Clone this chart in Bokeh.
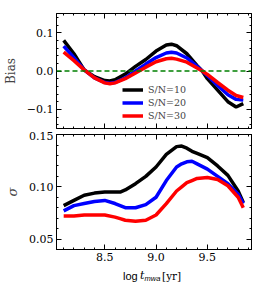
from bokeh.plotting import figure
from bokeh.layouts import column
from bokeh.models import (LinearAxis, Range1d, Span, Legend, LegendItem,
                          SingleIntervalTicker, CustomJSTickFormatter)
from bokeh.core.properties import value
from bokeh.embed import file_html
from bokeh.resources import INLINE

# ---------------- data ----------------
x_bias = [8.10, 8.20, 8.30, 8.40, 8.50, 8.55, 8.60, 8.70, 8.80, 8.90, 9.00, 9.10,
          9.15, 9.20, 9.30, 9.40, 9.45, 9.50, 9.60, 9.70, 9.78, 9.85]
bias_sn10 = [0.080, 0.045, 0.003, -0.015, -0.025, -0.026, -0.023, -0.008, 0.012, 0.030,
             0.052, 0.068, 0.070, 0.066, 0.045, 0.014, 0.000, -0.020, -0.050, -0.080,
             -0.094, -0.085]
bias_sn20 = [0.065, 0.035, 0.003, -0.018, -0.030, -0.032, -0.030, -0.018, 0.000, 0.018,
             0.035, 0.047, 0.049, 0.047, 0.034, 0.012, 0.000, -0.012, -0.038, -0.062,
             -0.074, -0.076]
bias_sn30 = [0.049, 0.027, 0.003, -0.018, -0.031, -0.033, -0.031, -0.020, -0.005, 0.010,
             0.024, 0.032, 0.033, 0.031, 0.023, 0.008, 0.000, -0.009, -0.030, -0.050,
             -0.064, -0.069]

x_sig = [8.10, 8.20, 8.30, 8.40, 8.50, 8.60, 8.65, 8.70, 8.80, 8.90, 9.00, 9.10,
         9.20, 9.25, 9.30, 9.35, 9.40, 9.50, 9.60, 9.70, 9.80, 9.85]
sig_sn10 = [0.082, 0.087, 0.092, 0.094, 0.095, 0.095, 0.095, 0.097, 0.103, 0.110,
            0.119, 0.131, 0.1385, 0.139, 0.137, 0.134, 0.132, 0.128, 0.120, 0.111,
            0.096, 0.085]
sig_sn20 = [0.077, 0.082, 0.084, 0.086, 0.087, 0.084, 0.082, 0.080, 0.080, 0.083,
            0.090, 0.106, 0.119, 0.122, 0.124, 0.1245, 0.122, 0.117, 0.110, 0.103,
            0.093, 0.084]
sig_sn30 = [0.072, 0.072, 0.073, 0.073, 0.073, 0.071, 0.0695, 0.068, 0.067, 0.068,
            0.073, 0.084, 0.096, 0.100, 0.104, 0.106, 0.108, 0.109, 0.107, 0.101,
            0.090, 0.080]

series_labels = ["S/N=10", "S/N=20", "S/N=30"]
series_colors = ["black", "blue", "red"]

xlim = (8.03, 9.93)
FONT = "DejaVu Serif"
TICK_SIZE = "11px"


def fmt(decimals):
    return CustomJSTickFormatter(code=f"""
        const v = Math.abs(tick) < 1e-9 ? 0 : tick;
        return v.toFixed({decimals}).replace('-', '\\u2212');
    """)


def style_axis(ax, show_labels):
    ax.major_tick_in = 5
    ax.major_tick_out = 0
    ax.minor_tick_in = 2
    ax.minor_tick_out = 0
    ax.axis_line_color = "black"
    ax.major_tick_line_color = "black"
    ax.minor_tick_line_color = "black"
    ax.major_label_text_font = FONT
    ax.major_label_text_font_size = TICK_SIZE
    ax.major_label_text_color = "black"
    ax.major_label_standoff = 3
    if not show_labels:
        ax.formatter = CustomJSTickFormatter(code="return ''")
        ax.major_label_standoff = 0
        ax.major_label_text_font_size = "0px"


def make_fig(ylim, yinterval, ydec, bt, bb, show_x):
    p = figure(frame_width=195, frame_height=115,
               x_range=Range1d(*xlim), y_range=Range1d(*ylim),
               output_backend="svg", toolbar_location=None,
               min_border_left=50, min_border_right=5,
               min_border_top=bt, min_border_bottom=bb)
    p.grid.visible = False
    p.outline_line_color = "black"
    p.xaxis.ticker = SingleIntervalTicker(interval=0.5, num_minor_ticks=5)
    p.yaxis.ticker = SingleIntervalTicker(interval=yinterval, num_minor_ticks=5)
    p.xaxis.formatter = fmt(1)
    p.yaxis.formatter = fmt(ydec)
    style_axis(p.xaxis[0], show_x)
    style_axis(p.yaxis[0], True)
    top = LinearAxis(ticker=SingleIntervalTicker(interval=0.5, num_minor_ticks=5))
    right = LinearAxis(ticker=SingleIntervalTicker(interval=yinterval, num_minor_ticks=5))
    style_axis(top, False)
    style_axis(right, False)
    p.add_layout(top, "above")
    p.add_layout(right, "right")
    return p


# ---------------- top panel ----------------
p1 = make_fig((-0.15, 0.15), 0.1, 1, 13, 3, False)
p1.add_layout(Span(location=0.0, dimension="width", line_color="green",
                   line_dash="5 3", line_width=1.5))
items = []
for ys, lab, col in zip([bias_sn10, bias_sn20, bias_sn30], series_labels, series_colors):
    r = p1.line(x_bias, ys, line_color=col, line_width=3.5)
    items.append(LegendItem(label=lab, renderers=[r]))
leg = Legend(items=items, location=(66, 6), background_fill_alpha=0,
             border_line_alpha=0, padding=0, margin=0, spacing=0,
             glyph_width=21, glyph_height=13, label_height=13, label_standoff=5,
             label_text_font=FONT, label_text_font_size="9.5px")
p1.add_layout(leg)
p1.yaxis[0].axis_label = "Bias"
p1.yaxis[0].axis_label_text_font = FONT
p1.yaxis[0].axis_label_text_font_size = "12px"
p1.yaxis[0].axis_label_text_font_style = "normal"
p1.yaxis[0].axis_label_standoff = 6

# ---------------- bottom panel ----------------
p2 = make_fig((0.04, 0.1501), 0.05, 2, 3, 16, True)
for ys, col in zip([sig_sn10, sig_sn20, sig_sn30], series_colors):
    p2.line(x_sig, ys, line_color=col, line_width=3.5)
p2.yaxis[0].axis_label = "σ"
p2.yaxis[0].axis_label_text_font = FONT
p2.yaxis[0].axis_label_text_font_size = "13px"
p2.yaxis[0].axis_label_text_font_style = "italic"
p2.yaxis[0].axis_label_standoff = 6

# ---------------- x-axis label strip: "log t_mwa [yr]" ----------------
p3 = figure(frame_width=195, frame_height=18, x_range=Range1d(*xlim),
            y_range=Range1d(0, 18), output_backend="svg", toolbar_location=None,
            min_border_left=50, min_border_right=5, min_border_top=0,
            min_border_bottom=0, x_axis_location=None, y_axis_location=None)
p3.grid.visible = False
p3.outline_line_color = None
xc = 9.0
yb = 8
p3.text(x=[xc], y=[yb], text=["log"], text_font=value("Liberation Sans"),
        text_font_size="11px", x_offset=-33, text_baseline="alphabetic",
        text_align="left", text_color="black")
p3.text(x=[xc], y=[yb], text=["t"], text_font=value(FONT), text_font_style="italic",
        text_font_size="11px", x_offset=-16, text_baseline="alphabetic",
        text_align="left", text_color="black")
p3.text(x=[xc], y=[yb], text=["mwa"], text_font=value("Liberation Sans"),
        text_font_style="italic", text_font_size="7.5px", x_offset=-11.5, y_offset=2.5,
        text_baseline="alphabetic", text_align="left", text_color="black")
p3.text(x=[xc], y=[yb], text=["[yr]"], text_font=value(FONT),
        text_font_size="10.5px", x_offset=6, text_baseline="alphabetic",
        text_align="left", text_color="black")

layout = column(p1, p2, p3, spacing=0)
open("out.html", "w").write(file_html(layout, INLINE))
